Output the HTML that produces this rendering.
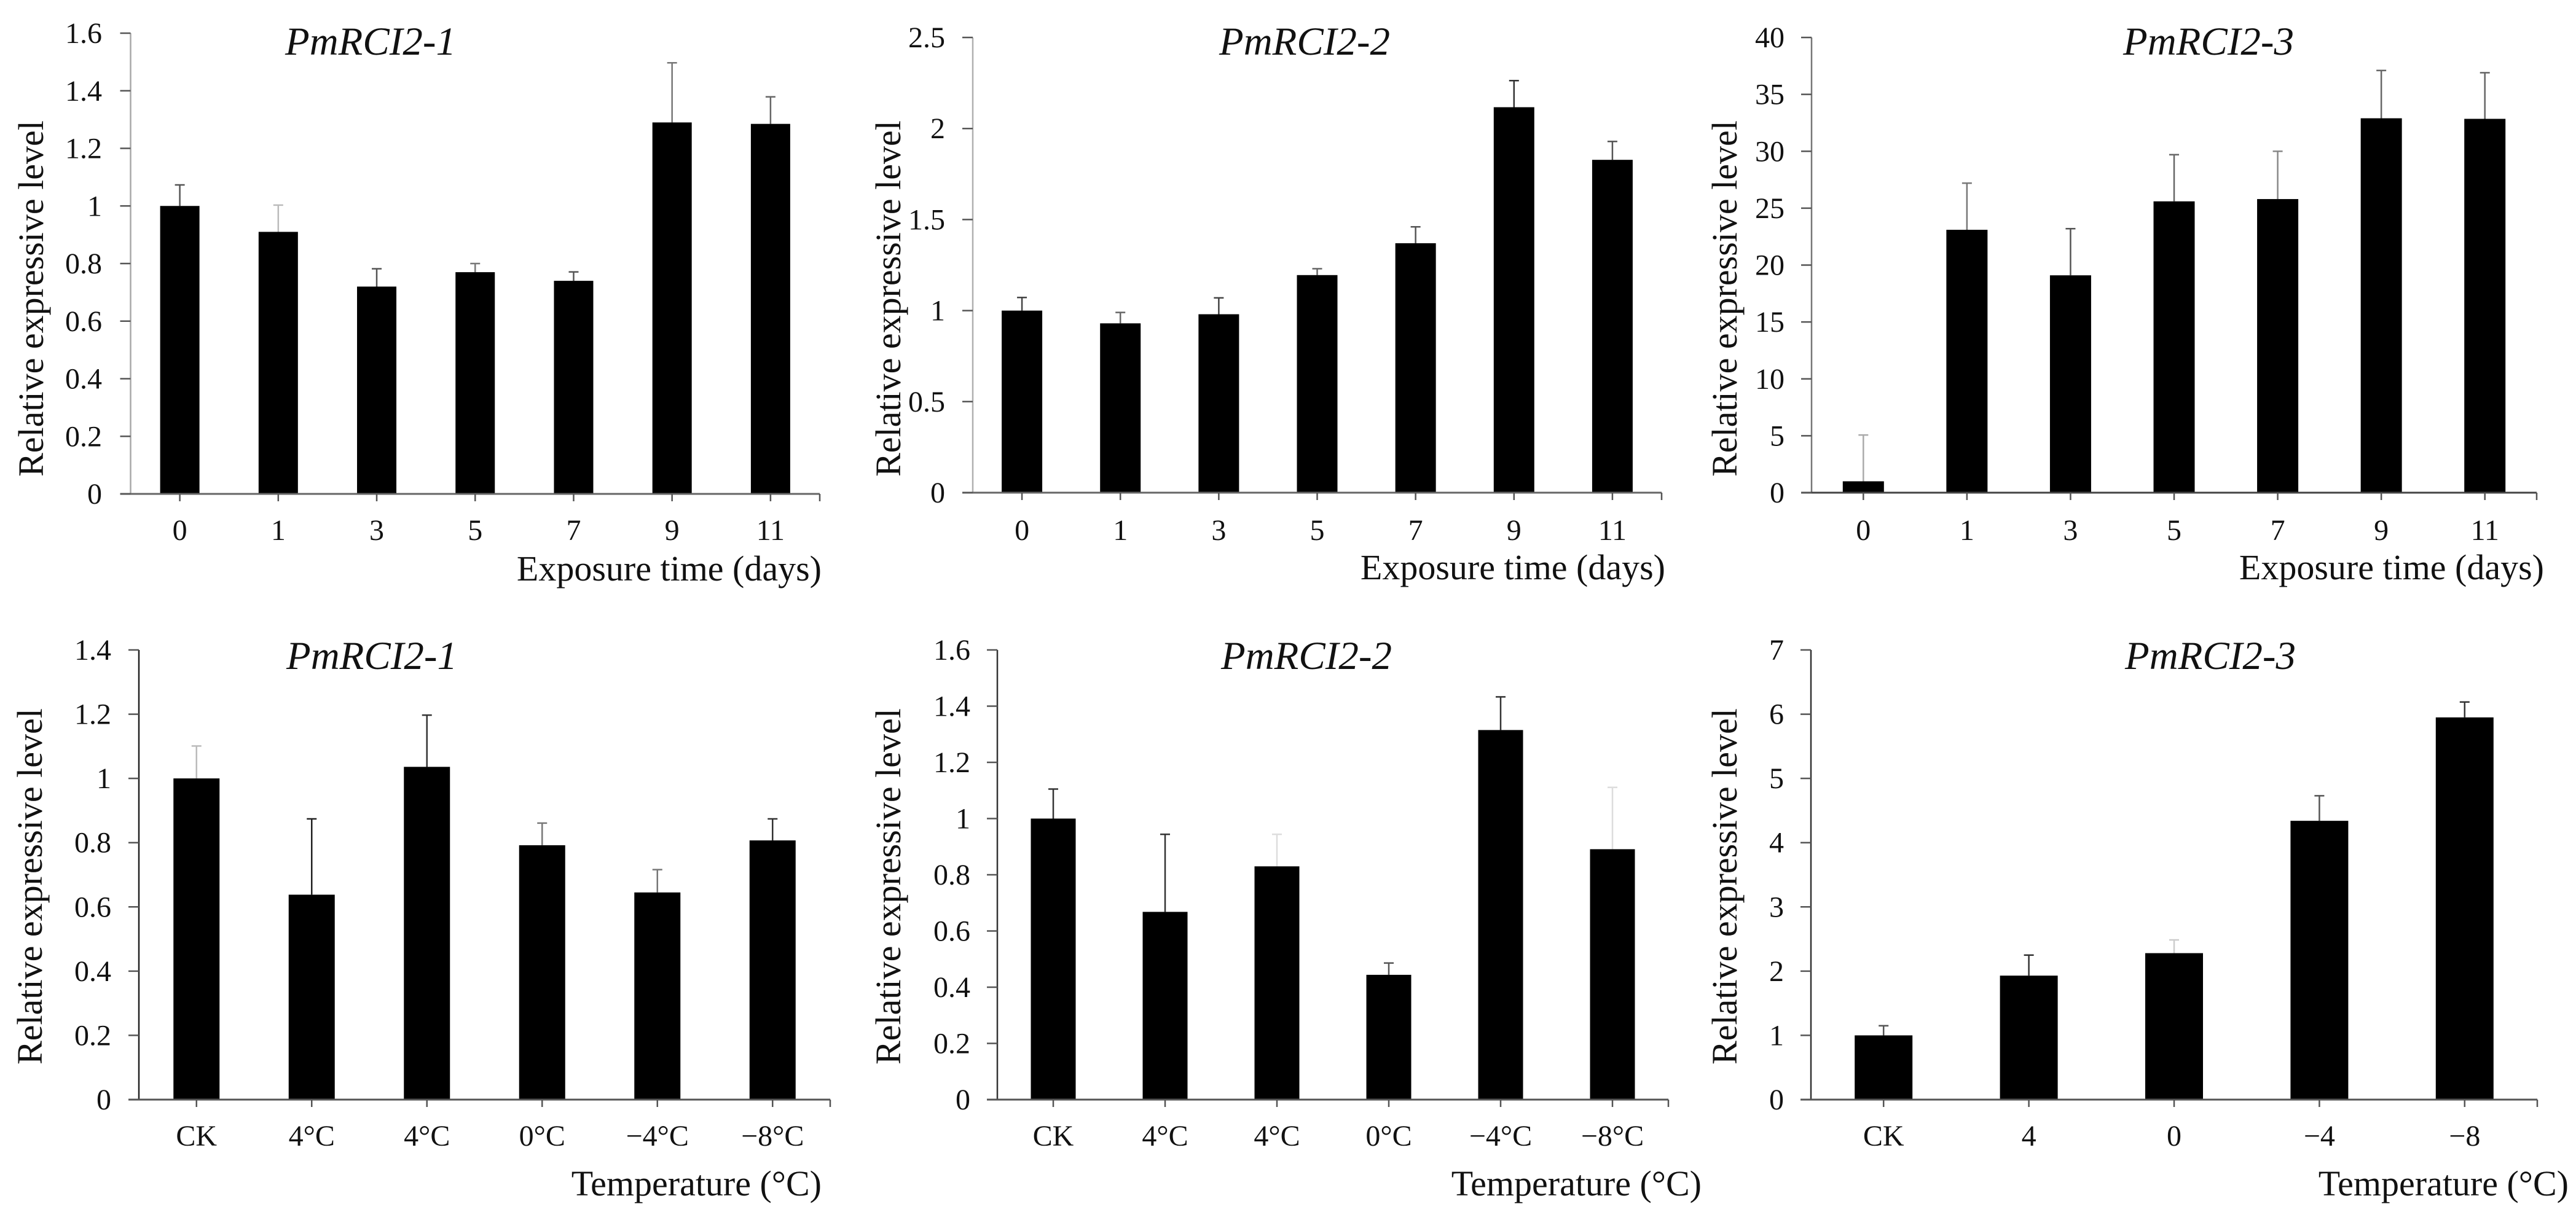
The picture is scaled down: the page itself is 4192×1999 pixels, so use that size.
<!DOCTYPE html>
<html lang="en">
<head>
<meta charset="utf-8">
<title>PmRCI2 relative expression charts</title>
<style>
  html, body { margin: 0; padding: 0; background: #fff; }
  svg { display: block; }
  text { font-family: "Liberation Serif", "Times New Roman", serif; fill: #111; }
  .tick { font-size: 48px; }
  .axis-title { font-size: 58px; }
  .panel-title { font-size: 65px; font-style: italic; text-anchor: middle; }
</style>
</head>
<body>
<svg id="figure" xmlns="http://www.w3.org/2000/svg" width="4192" height="1999" viewBox="0 0 4192 1999">
  <rect x="0" y="0" width="4192" height="1999" fill="#fff"/>

  <g id="p1">
    <text class="panel-title" x="603" y="89">PmRCI2-1</text>
    <text class="axis-title" transform="translate(70 486) rotate(-90)" text-anchor="middle">Relative expressive level</text>
    <text class="axis-title" x="1337" y="945" text-anchor="end">Exposure time (days)</text>
  </g>
  <g id="p2">
    <text class="panel-title" x="2123" y="89">PmRCI2-2</text>
    <text class="axis-title" transform="translate(1465 486) rotate(-90)" text-anchor="middle">Relative expressive level</text>
    <text class="axis-title" x="2710" y="943" text-anchor="end">Exposure time (days)</text>
  </g>
  <g id="p3">
    <text class="panel-title" x="3594" y="89">PmRCI2-3</text>
    <text class="axis-title" transform="translate(2826 486) rotate(-90)" text-anchor="middle">Relative expressive level</text>
    <text class="axis-title" x="4140" y="943" text-anchor="end">Exposure time (days)</text>
  </g>
  <g id="p4">
    <text class="panel-title" x="605" y="1089">PmRCI2-1</text>
    <text class="axis-title" transform="translate(68 1443) rotate(-90)" text-anchor="middle">Relative expressive level</text>
    <text class="axis-title" x="1337" y="1946" text-anchor="end">Temperature (°C)</text>
  </g>
  <g id="p5">
    <text class="panel-title" x="2126" y="1089">PmRCI2-2</text>
    <text class="axis-title" transform="translate(1465 1443) rotate(-90)" text-anchor="middle">Relative expressive level</text>
    <text class="axis-title" x="2769" y="1946" text-anchor="end">Temperature (°C)</text>
  </g>
  <g id="p6">
    <text class="panel-title" x="3597" y="1089">PmRCI2-3</text>
    <text class="axis-title" transform="translate(2826 1443) rotate(-90)" text-anchor="middle">Relative expressive level</text>
    <text class="axis-title" x="4180" y="1946" text-anchor="end">Temperature (°C)</text>
  </g>
</svg>

<script>
// ---------- data ----------
const exposureDays = ["0", "1", "3", "5", "7", "9", "11"];
const temperatureSix = ["CK", "4°C", "4°C", "0°C", "−4°C", "−8°C"];
const temperatureFive = ["CK", "4", "0", "−4", "−8"];

const p1Values = [1.0, 0.91, 0.72, 0.77, 0.74, 1.29, 1.285];
const p1Errors = [0.073, 0.093, 0.062, 0.03, 0.031, 0.207, 0.094];
const p1YTicks = ["0", "0.2", "0.4", "0.6", "0.8", "1", "1.2", "1.4", "1.6"];

const p2Values = [1.0, 0.93, 0.98, 1.195, 1.37, 2.117, 1.828];
const p2Errors = [0.072, 0.06, 0.09, 0.035, 0.09, 0.146, 0.101];
const p2YTicks = ["0", "0.5", "1", "1.5", "2", "2.5"];

const p3Values = [1.0, 23.1, 19.1, 25.6, 25.8, 32.9, 32.85];
const p3Errors = [4.07, 4.1, 4.1, 4.1, 4.2, 4.2, 4.05];
const p3YTicks = ["0", "5", "10", "15", "20", "25", "30", "35", "40"];

const p4Values = [1.0, 0.638, 1.036, 0.792, 0.645, 0.807];
const p4Errors = [0.101, 0.236, 0.161, 0.069, 0.071, 0.067];
const p4YTicks = ["0", "0.2", "0.4", "0.6", "0.8", "1", "1.2", "1.4"];

const p5Values = [1.0, 0.668, 0.83, 0.444, 1.315, 0.891];
const p5Errors = [0.105, 0.276, 0.114, 0.042, 0.118, 0.22];
const p5YTicks = ["0", "0.2", "0.4", "0.6", "0.8", "1", "1.2", "1.4", "1.6"];

const p6Values = [1.0, 1.93, 2.28, 4.34, 5.95];
const p6Errors = [0.15, 0.32, 0.206, 0.39, 0.24];
const p6YTicks = ["0", "1", "2", "3", "4", "5", "6", "7"];

// ---------- per-panel layout and styling ----------
const panels = [
  { id: "p1", cats: exposureDays, vals: p1Values, errs: p1Errors, yTicks: p1YTicks,
    left: 212.5, right: 1334, top: 54, bottom: 804, barW: 64, tickLabelRight: 166, xLabelY: 879,
    yAxisColor: "#a8a8a8", xAxisColor: "#666",
    errColors: ["#555", "#bbb", "#555", "#777", "#555", "#777", "#666"] },
  { id: "p2", cats: exposureDays, vals: p2Values, errs: p2Errors, yTicks: p2YTicks,
    left: 1583, right: 2704, top: 61, bottom: 802, barW: 66, tickLabelRight: 1538, xLabelY: 879,
    yAxisColor: "#b0b0b0", xAxisColor: "#666",
    errColors: ["#444", "#666", "#444", "#666", "#555", "#333", "#555"] },
  { id: "p3", cats: exposureDays, vals: p3Values, errs: p3Errors, yTicks: p3YTicks,
    left: 2948, right: 4128, top: 61, bottom: 802, barW: 67, tickLabelRight: 2904, xLabelY: 879,
    yAxisColor: "#777", xAxisColor: "#444",
    errColors: ["#aaa", "#777", "#555", "#666", "#888", "#666", "#666"] },
  { id: "p4", cats: temperatureSix, vals: p4Values, errs: p4Errors, yTicks: p4YTicks,
    left: 226, right: 1351, top: 1058, bottom: 1790, barW: 75, tickLabelRight: 181, xLabelY: 1865,
    yAxisColor: "#222", xAxisColor: "#555",
    errColors: ["#bbb", "#222", "#333", "#777", "#777", "#333"] },
  { id: "p5", cats: temperatureSix, vals: p5Values, errs: p5Errors, yTicks: p5YTicks,
    left: 1623, right: 2715, top: 1058, bottom: 1790, barW: 73, tickLabelRight: 1579, xLabelY: 1865,
    yAxisColor: "#333", xAxisColor: "#555",
    errColors: ["#333", "#333", "#ddd", "#555", "#333", "#ddd"] },
  { id: "p6", cats: temperatureFive, vals: p6Values, errs: p6Errors, yTicks: p6YTicks,
    left: 2947, right: 4129, top: 1058, bottom: 1790, barW: 94, tickLabelRight: 2903, xLabelY: 1865,
    yAxisColor: "#333", xAxisColor: "#555",
    errColors: ["#555", "#333", "#ccc", "#555", "#333"] }
];

// ---------- drawing ----------
const NS = "http://www.w3.org/2000/svg";

function line(parent, x1, y1, x2, y2, color, width) {
  const el = document.createElementNS(NS, "line");
  el.setAttribute("x1", x1);
  el.setAttribute("y1", y1);
  el.setAttribute("x2", x2);
  el.setAttribute("y2", y2);
  el.setAttribute("stroke", color);
  el.setAttribute("stroke-width", width);
  parent.appendChild(el);
  return el;
}

function label(parent, x, y, anchor, str) {
  const el = document.createElementNS(NS, "text");
  el.setAttribute("class", "tick");
  el.setAttribute("x", x);
  el.setAttribute("y", y);
  el.setAttribute("text-anchor", anchor);
  el.textContent = str;
  parent.appendChild(el);
  return el;
}

function drawPanel(p) {
  const g = document.getElementById(p.id);
  const yMax = parseFloat(p.yTicks[p.yTicks.length - 1]);
  const yScale = v => p.bottom - (v / yMax) * (p.bottom - p.top);
  const band = (p.right - p.left) / p.cats.length;
  const xScale = i => p.left + band * (i + 0.5);

  p.vals.forEach((v, i) => {
    const cx = xScale(i);
    const upper = yScale(v + p.errs[i]);

    const stem = line(g, cx, upper, cx, yScale(v), p.errColors[i], 2.5);
    
    

    const cap = line(g, cx - 8, upper, cx + 8, upper, p.errColors[i], 2.5);
    
    

    const bar = document.createElementNS(NS, "rect");
    bar.setAttribute("x", cx - p.barW / 2);
    bar.setAttribute("y", yScale(v));
    bar.setAttribute("width", p.barW);
    bar.setAttribute("height", p.bottom - yScale(v));
    bar.setAttribute("fill", "#000");
    
    
    g.appendChild(bar);
  });

  const yAxis = line(g, p.left, p.top, p.left, p.bottom, p.yAxisColor, 2.5);
  
  

  const xAxis = line(g, p.left - 17, p.bottom, p.right, p.bottom, p.xAxisColor, 3);
  
  

  p.yTicks.forEach(t => {
    const y = yScale(parseFloat(t));
    const mark = line(g, p.left - 17, y, p.left, y, "#555", 2.5);
    
    

    const text = label(g, p.tickLabelRight, y + 16, "end", t);
    
    
  });

  p.cats.forEach((c, i) => {
    const cx = xScale(i);
    const mark = line(g, cx, p.bottom, cx, p.bottom + 12, "#555", 2.5);
    
    

    const text = label(g, cx, p.xLabelY, "middle", c);
    
    
  });

  const endMark = line(g, p.right, p.bottom, p.right, p.bottom + 12, "#555", 2.5);
  
  
}

panels.forEach(drawPanel);
</script>
</body>
</html>
